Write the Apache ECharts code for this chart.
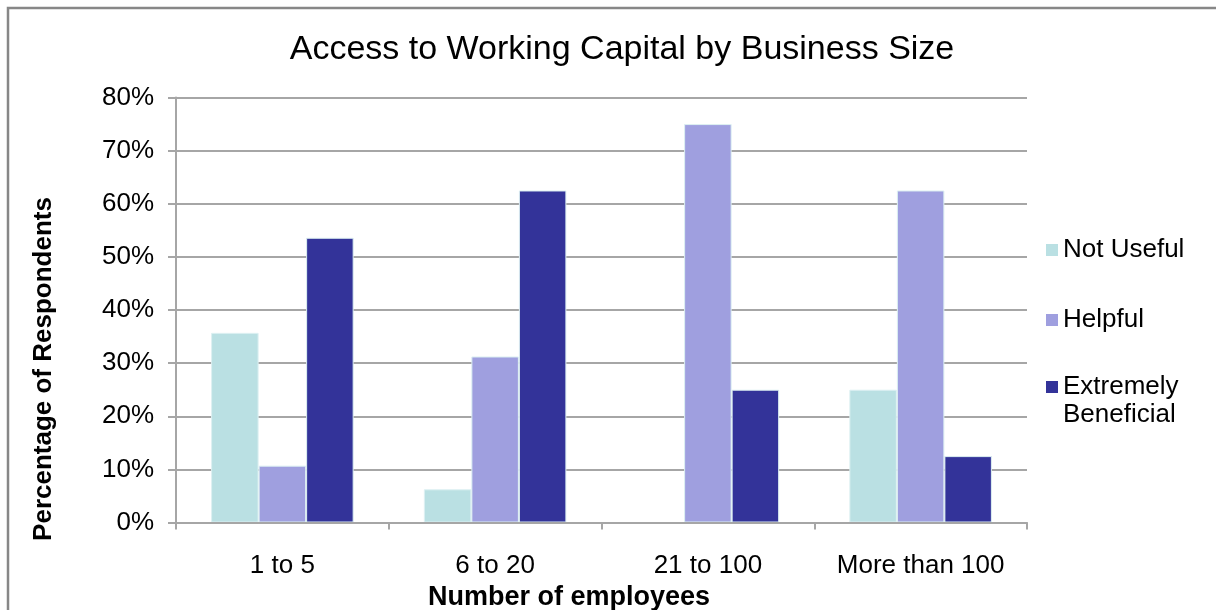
<!DOCTYPE html>
<html>
<head>
<meta charset="utf-8">
<script src="https://cdn.jsdelivr.net/npm/echarts@6/dist/echarts.min.js"></script>
<style>
  html, body { margin: 0; padding: 0; background: #fff; }
  #chart { width: 1216px; height: 610px; }
</style>
</head>
<body>
<div id="chart"></div>
<script>
// Business size groups along the x axis
const categories = ['1 to 5', '6 to 20', '21 to 100', 'More than 100'];

// Share of respondents (%) for each rating
const notUseful = [35.7, 6.25, 0, 25];
const helpful = [10.7, 31.25, 75, 62.5];
const extremelyBeneficial = [53.6, 62.5, 25, 12.5];

const seriesNames = ['Not Useful', 'Helpful', 'Extremely Beneficial'];
const seriesColors = ['#BAE0E3', '#9F9FDF', '#333399'];

const FONT = '"Liberation Sans", Arial, sans-serif';
const GRID_COLOR = '#A6A6A6';

const chart = echarts.init(document.getElementById('chart'), null, { renderer: 'canvas' });

function barSeries(name, values, color) {
  return {
    name: name,
    type: 'bar',
    data: values,
    barGap: '0%',
    barCategoryGap: '33%',
    itemStyle: { color: color, borderColor: '#DDF0F2', borderWidth: 1 }
  };
}

const legendText = { fontFamily: FONT, fontSize: 26, color: '#000', lineHeight: 28 };

chart.setOption({
  backgroundColor: '#ffffff',
  animation: false,
  title: {
    text: 'Access to Working Capital by Business Size',
    left: 617,
    textAlign: 'center',
    top: 28,
    textStyle: { fontFamily: FONT, fontSize: 34, fontWeight: 'normal', color: '#000' }
  },
  legend: [
    {
      data: ['Not Useful', 'Helpful'],
      orient: 'vertical',
      left: 1046,
      top: 236,
      padding: 0,
      itemWidth: 12,
      itemHeight: 12,
      itemGap: 42,
      icon: 'rect',
      itemStyle: { borderWidth: 0 },
      textStyle: legendText
    },
    {
      // blank first line keeps the swatch level with "Extremely"
      data: ['Extremely Beneficial'],
      formatter: function (name) { return ' \n' + name.replace(' ', '\n'); },
      orient: 'vertical',
      left: 1046,
      top: 345,
      padding: 0,
      itemWidth: 12,
      itemHeight: 12,
      icon: 'rect',
      itemStyle: { borderWidth: 0 },
      textStyle: legendText
    }
  ],
  grid: { left: 176, right: 189, top: 97.5, bottom: 87.5, containLabel: false },
  xAxis: {
    type: 'category',
    data: categories,
    z: 3,
    axisLine: { lineStyle: { color: GRID_COLOR, width: 2 } },
    axisTick: { show: true, interval: 0, length: 7, lineStyle: { color: GRID_COLOR, width: 2 } },
    axisLabel: { interval: 0, hideOverlap: false, fontFamily: FONT, fontSize: 26, color: '#000', margin: 30 }
  },
  yAxis: {
    type: 'value',
    min: 0,
    max: 80,
    interval: 10,
    axisLine: { show: true, lineStyle: { color: GRID_COLOR, width: 2 } },
    axisTick: { show: true, length: 8, lineStyle: { color: GRID_COLOR, width: 2 } },
    axisLabel: { fontFamily: FONT, fontSize: 26, color: '#000', margin: 22, formatter: '{value}%' },
    splitLine: { show: true, lineStyle: { color: GRID_COLOR, width: 2 } }
  },
  graphic: [
    {
      // chart frame
      type: 'rect',
      shape: { x: 8, y: 8, width: 1300, height: 700 },
      style: { fill: 'none', stroke: '#878787', lineWidth: 2.5 },
      silent: true
    },
    {
      type: 'text',
      x: 44,
      y: 369,
      rotation: Math.PI / 2,
      style: {
        text: 'Percentage of Respondents',
        fontFamily: FONT,
        fontSize: 26,
        fontWeight: 'bold',
        fill: '#000',
        align: 'center',
        verticalAlign: 'middle'
      }
    },
    {
      type: 'text',
      x: 569,
      y: 598,
      style: {
        text: 'Number of employees',
        fontFamily: FONT,
        fontSize: 27,
        fontWeight: 'bold',
        fill: '#000',
        align: 'center',
        verticalAlign: 'middle'
      }
    }
  ],
  series: [
    barSeries(seriesNames[0], notUseful, seriesColors[0]),
    barSeries(seriesNames[1], helpful, seriesColors[1]),
    barSeries(seriesNames[2], extremelyBeneficial, seriesColors[2])
  ]
});
</script>
</body>
</html>
